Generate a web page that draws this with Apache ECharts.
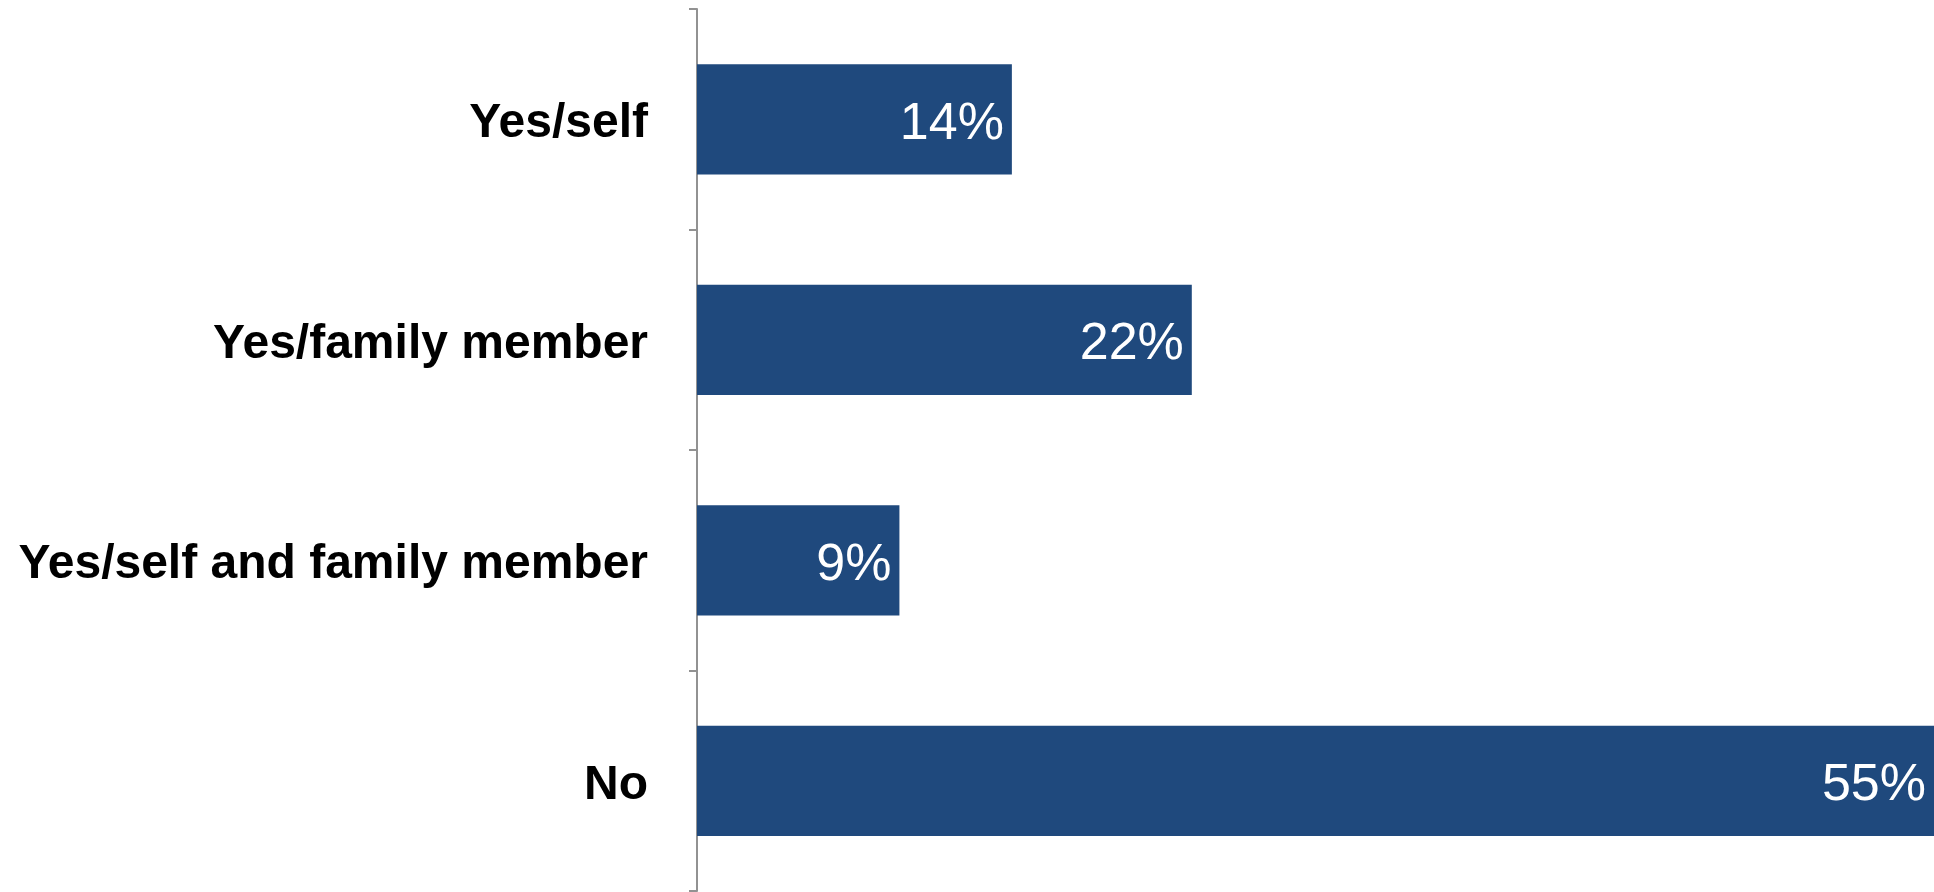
<!DOCTYPE html>
<html>
<head>
<meta charset="utf-8">
<script src="https://cdn.jsdelivr.net/npm/echarts@6/dist/echarts.min.js"></script>
<style>
html,body{margin:0;padding:0;background:#fff;}
#chart{width:1934px;height:892px;}
</style>
</head>
<body>
<div id="chart"></div>
<script>
const categories = ["Yes/self", "Yes/family member", "Yes/self and family member", "No"];
const values = [14, 22, 9, 55];

const chart = echarts.init(document.getElementById('chart'));
chart.setOption({
  animation: false,
  backgroundColor: '#ffffff',
  grid: { left: 697, right: 0, top: 9, bottom: 1, containLabel: false },
  xAxis: {
    type: 'value', min: 0, max: 55, show: false
  },
  yAxis: {
    type: 'category',
    data: categories,
    inverse: true,
    axisLine: { show: true, lineStyle: { color: '#929292', width: 2 } },
    axisTick: { show: true, length: 8, lineStyle: { color: '#929292', width: 2 } },
    axisLabel: {
      margin: 49,
      formatter: '{a|{value}}',
      rich: {
        a: {
          color: '#000000',
          fontFamily: 'Liberation Sans, Arial, sans-serif',
          fontWeight: 'bold',
          fontSize: 48,
          padding: [10, 0, 0, 0]
        }
      }
    }
  },
  series: [{
    type: 'bar',
    data: values,
    barWidth: '50%',
    itemStyle: { color: '#1F497D' },
    label: {
      show: true,
      position: 'insideRight',
      distance: 8,
      offset: [0, 5],
      formatter: '{c}%',
      color: '#ffffff',
      fontFamily: 'Liberation Sans, Arial, sans-serif',
      fontSize: 52
    }
  }]
});
</script>
</body>
</html>
